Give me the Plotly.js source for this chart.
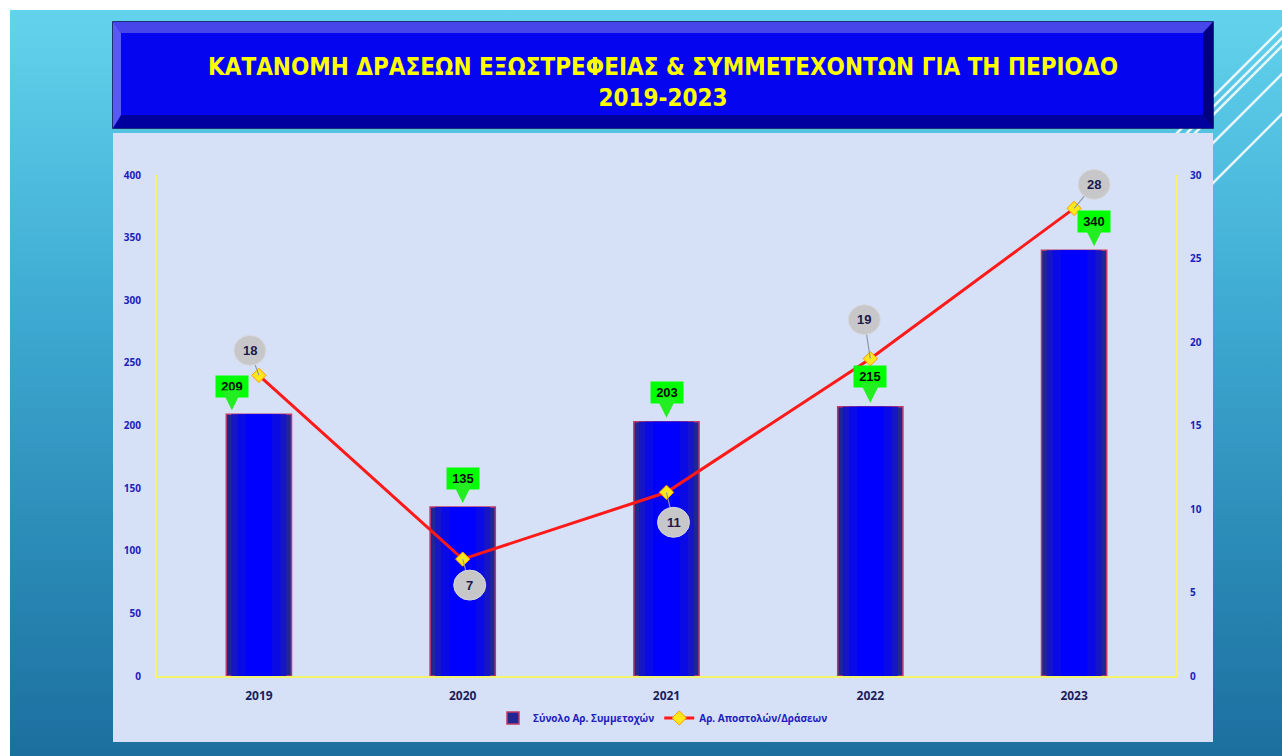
<!DOCTYPE html>
<html><head><meta charset="utf-8">
<script src="https://cdn.plot.ly/plotly-3.0.1.min.js"></script>
<style>
html,body{margin:0;padding:0;background:#ffffff;overflow:hidden;}
#bg{position:absolute;left:10px;top:10px;width:1272px;height:746px;background:linear-gradient(180deg,#63d3ed 0%,#3eaad2 40%,#1b6f9f 100%);}
#chart{position:absolute;left:0;top:0;width:1282px;height:756px;}
</style></head>
<body><div id="bg"></div><div id="chart"></div>
<script>
// ---- data ----
const years = ['2019', '2020', '2021', '2022', '2023'];
const participants = [209, 135, 203, 215, 340];
const actions = [18, 7, 11, 19, 28];
const seriesNames = ['Σύνολο Αρ. Συμμετοχών', 'Αρ. Αποστολών/Δράσεων'];
const titleLines = ['ΚΑΤΑΝΟΜΗ ΔΡΑΣΕΩΝ ΕΞΩΣΤΡΕΦΕΙΑΣ & ΣΥΜΜΕΤΕΧΟΝΤΩΝ ΓΙΑ ΤΗ ΠΕΡΙΟΔΟ', '2019-2023'];

// ---- axis ranges ----
const leftRange = [0, 400];
const rightRange = [0, 30];

// ---- label placement (pixels, style only) ----
const barLabelShiftX = [-27, 0, 0, 0, 20];
const barLabelAy = [-28, -28, -29, -30, -29];
const circDx = [-9, 7, 7, -6, 20];      // circle centre offset from point, px (right +)
const circDy = [25, -26, -30, 39, 24];  // px (up +)

const W = 1282, H = 756, L = 157, R = 1176, T = 175, B = 676;
const px = x => (x - L) / (R - L);
const py = y => (B - y) / (B - T);
const poly = pts => 'M ' + pts.map(p => px(p[0]) + ',' + py(p[1])).join(' L ') + ' Z';
// data -> paper fraction (so the bubbles are not clipped by the plot area)
const catPaper = i => (i + 0.5) / years.length;
const y2Paper = v => (v - rightRange[0]) / (rightRange[1] - rightRange[0]);

const shapes = [];
[97, 107, 115, 143, 183].forEach(y0 => {
  shapes.push({type: 'line', xref: 'paper', yref: 'paper', x0: px(1150), y0: py(y0 + 63), x1: px(1290), y1: py(y0 - 77),
    line: {color: 'rgba(255,255,255,0.85)', width: 2.5}, layer: 'below'});
});
shapes.push({type: 'rect', xref: 'paper', yref: 'paper', x0: px(113), x1: px(1213), y0: py(128), y1: py(22), fillcolor: '#1818c8', line: {color: '#000050', width: 1.5}, layer: 'below'});
shapes.push({type: 'path', xref: 'paper', yref: 'paper', path: poly([[113,22],[1213,22],[1203,33],[121,33]]), fillcolor: '#4646ea', line: {width: 0}, layer: 'below'});
shapes.push({type: 'path', xref: 'paper', yref: 'paper', path: poly([[113,128],[1213,128],[1203,115],[121,115]]), fillcolor: '#00009e', line: {width: 0}, layer: 'below'});
shapes.push({type: 'path', xref: 'paper', yref: 'paper', path: poly([[113,22],[121,33],[121,115],[113,128]]), fillcolor: '#5a5af2', line: {width: 0}, layer: 'below'});
shapes.push({type: 'path', xref: 'paper', yref: 'paper', path: poly([[1213,22],[1203,33],[1203,115],[1213,128]]), fillcolor: '#00007e', line: {width: 0}, layer: 'below'});
shapes.push({type: 'rect', xref: 'paper', yref: 'paper', x0: px(121), x1: px(1203), y0: py(115), y1: py(33), fillcolor: '#0505f0', line: {width: 0}, layer: 'below'});
shapes.push({type: 'rect', xref: 'paper', yref: 'paper', x0: px(113), x1: px(1213), y0: py(742), y1: py(133), fillcolor: '#d6e1f7', line: {width: 0}, layer: 'below'});

const annotations = [];
years.forEach((yr, i) => {
  // green value callouts above the bars
  annotations.push({x: i, y: participants[i], xref: 'x', yref: 'y', text: String(participants[i]),
    showarrow: true, arrowhead: 2, arrowsize: 1, arrowwidth: 4, arrowcolor: '#22ee22', ax: 0, ay: barLabelAy[i], standoff: 4,
    xshift: barLabelShiftX[i], bgcolor: '#00ff00', width: 30, height: 19, borderpad: 1,
    font: {family: 'Liberation Sans, Arial, sans-serif', size: 13, color: '#0a0a0a', weight: 'bold'}});
  // grey bubble: leader line + circle (pixel-sized shapes anchored at the data point)
  const xa = catPaper(i), ya = y2Paper(actions[i]);
  shapes.push({type: 'line', xref: 'paper', yref: 'paper', xsizemode: 'pixel', ysizemode: 'pixel', xanchor: xa, yanchor: ya,
    x0: 0, y0: 0, x1: circDx[i], y1: circDy[i], line: {color: '#8e98a6', width: 1.2}, layer: 'above'});
  shapes.push({type: 'circle', xref: 'paper', yref: 'paper', xsizemode: 'pixel', ysizemode: 'pixel', xanchor: xa, yanchor: ya,
    x0: circDx[i] - 16, x1: circDx[i] + 16, y0: circDy[i] - 15, y1: circDy[i] + 15,
    fillcolor: '#c7c7ca', line: {color: '#d8d8dc', width: 1}, layer: 'above'});
  annotations.push({x: i, y: actions[i], xref: 'x', yref: 'y2', text: String(actions[i]),
    showarrow: false, xshift: circDx[i], yshift: circDy[i],
    font: {family: 'Liberation Sans, Arial, sans-serif', size: 13, color: '#1a1a4a', weight: 'bold'}});
});

const traces = [
  {type: 'bar', x: years, y: participants, name: seriesNames[0], width: 0.32,
   marker: {color: '#1f2890', line: {color: '#c0386a', width: 1.5}}},
  {type: 'bar', x: years, y: participants, showlegend: false, hoverinfo: 'skip', width: 0.27,
   marker: {color: '#1616c4', line: {width: 0}}},
  {type: 'bar', x: years, y: participants, showlegend: false, hoverinfo: 'skip', width: 0.21,
   marker: {color: '#0a0ae6', line: {width: 0}}},
  {type: 'bar', x: years, y: participants, showlegend: false, hoverinfo: 'skip', width: 0.13,
   marker: {color: '#0000ff', line: {width: 0}}},
  {type: 'scatter', mode: 'lines+markers', x: years, y: actions, yaxis: 'y2', name: seriesNames[1],
   line: {color: '#ff1a1a', width: 3},
   marker: {symbol: 'diamond', size: 11, color: '#ffe81a', line: {color: '#ff9a00', width: 1}}}
];

const tickFont = {family: 'Open Sans, DejaVu Sans, sans-serif', size: 10, color: '#2020b8', weight: 'bold'};
const layout = {
  width: W, height: H,
  margin: {l: L, r: W - R, t: T, b: H - B, pad: 0},
  barmode: 'overlay',
  paper_bgcolor: 'rgba(0,0,0,0)', plot_bgcolor: 'rgba(0,0,0,0)',
  title: {text: '<b>' + titleLines.join('<br>') + '</b>', x: px(663), xref: 'paper', xanchor: 'center',
    y: 1 - 75 / H, yref: 'container', yanchor: 'middle',
    font: {family: 'Liberation Sans Narrow, DejaVu Sans Condensed, Arial Narrow, sans-serif', size: 24, color: '#ffff00'}},
  xaxis: {type: 'category', range: [-0.5, years.length - 0.5], showline: true, linecolor: '#f4f46a', linewidth: 2, showgrid: false,
    tickfont: {family: 'Open Sans, DejaVu Sans, sans-serif', size: 12, color: '#1c1c5c', weight: 'bold'}, ticks: '', ticklabelstandoff: 8},
  yaxis: {range: leftRange, dtick: 50, showline: true, linecolor: '#f4f46a', linewidth: 2, showgrid: false, zeroline: false,
    tickfont: tickFont, ticks: '', ticklabelstandoff: 12},
  yaxis2: {range: rightRange, dtick: 5, overlaying: 'y', side: 'right', showline: true, linecolor: '#f4f46a', linewidth: 2,
    showgrid: false, zeroline: false, tickfont: tickFont, ticks: '', ticklabelstandoff: 10},
  legend: {orientation: 'h', x: px(663), xanchor: 'center', y: py(718), yanchor: 'middle', bgcolor: 'rgba(0,0,0,0)',
    font: {family: 'Open Sans, DejaVu Sans, sans-serif', size: 10, color: '#2020c0', weight: 'bold'}},
  shapes: shapes,
  annotations: annotations,
  showlegend: true
};
Plotly.newPlot('chart', traces, layout, {displayModeBar: false});
</script>
</body></html>
